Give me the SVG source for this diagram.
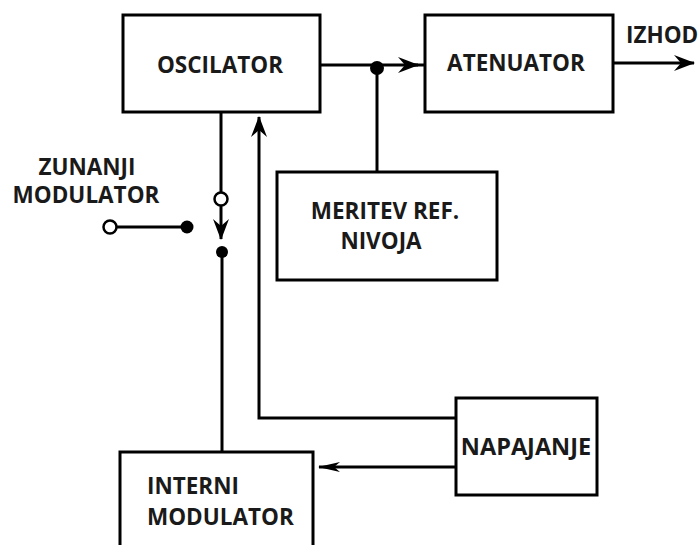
<svg xmlns="http://www.w3.org/2000/svg" width="700" height="545" viewBox="0 0 700 545">
<style>
.box{fill:#fff;stroke:#000;stroke-width:3}
.ln{fill:none;stroke:#000;stroke-width:3}
.t{font-family:"Open Sans","DejaVu Sans",sans-serif;font-weight:700;font-size:22.5px;fill:#1a1a1a;text-anchor:middle}
.tl{font-family:"Open Sans","DejaVu Sans",sans-serif;font-weight:700;font-size:22.5px;fill:#1a1a1a}
</style>
<defs>
<marker id="ah" viewBox="0 0 21 16" refX="20" refY="8" markerWidth="21" markerHeight="16" markerUnits="userSpaceOnUse" orient="auto">
<path d="M0,0 L21,8 L0,16 L7,8 Z" fill="#000"/>
</marker>
<marker id="ahn" viewBox="0 0 22 10" refX="21" refY="5" markerWidth="22" markerHeight="10" markerUnits="userSpaceOnUse" orient="auto">
<path d="M0,0 L22,5 L0,10 L6,5 Z" fill="#000"/>
</marker>
</defs>
<rect width="700" height="545" fill="#fff"/>
<g id="connectors">
<line class="ln" x1="320" y1="65" x2="418" y2="65" marker-end="url(#ah)"/>
<line class="ln" x1="412" y1="65" x2="425" y2="65"/>
<line class="ln" x1="377" y1="67" x2="377" y2="172"/>
<circle cx="377" cy="68" r="7" fill="#000"/>
<line class="ln" x1="613" y1="63" x2="694" y2="63" marker-end="url(#ah)"/>
<line class="ln" x1="221" y1="112" x2="221" y2="192"/>
<circle cx="221" cy="199" r="6.5" fill="#fff" stroke="#000" stroke-width="2.5"/>
<line class="ln" x1="221" y1="206" x2="221" y2="239" marker-end="url(#ah)"/>
<circle cx="222" cy="252" r="6" fill="#000"/>
<line class="ln" x1="222" y1="252" x2="222" y2="452"/>
<line class="ln" x1="110" y1="227" x2="187" y2="227"/>
<circle cx="110" cy="227" r="6.5" fill="#fff" stroke="#000" stroke-width="2.5"/>
<circle cx="187" cy="227" r="6.5" fill="#000"/>
<polyline class="ln" points="456,418 259,418 259,117" marker-end="url(#ah)"/>
<line class="ln" x1="456" y1="467" x2="319" y2="467" marker-end="url(#ahn)"/>
</g>
<g id="oscilator"><rect class="box" x="123" y="15" width="197" height="97"/><text class="t" x="220" y="73">OSCILATOR</text></g>
<g id="atenuator"><rect class="box" x="425" y="15" width="188" height="97"/><text class="t" x="516" y="71">ATENUATOR</text></g>
<g id="izhod"><text class="tl" x="626" y="43">IZHOD</text></g>
<g id="meritev"><rect class="box" x="277" y="172" width="220" height="108"/><text class="t" x="385" y="219">MERITEV REF.</text><text class="t" x="381" y="249">NIVOJA</text></g>
<g id="zunanji"><text class="t" x="87" y="175">ZUNANJI</text><text class="t" x="86" y="203">MODULATOR</text></g>
<g id="napajanje"><rect class="box" x="456" y="398" width="141" height="97"/><text class="t" x="526" y="455" style="font-size:23.5px">NAPAJANJE</text></g>
<g id="interni"><rect class="box" x="120" y="452" width="193" height="110"/><text class="tl" x="147" y="494">INTERNI</text><text class="tl" x="147" y="525">MODULATOR</text></g>
</svg>
